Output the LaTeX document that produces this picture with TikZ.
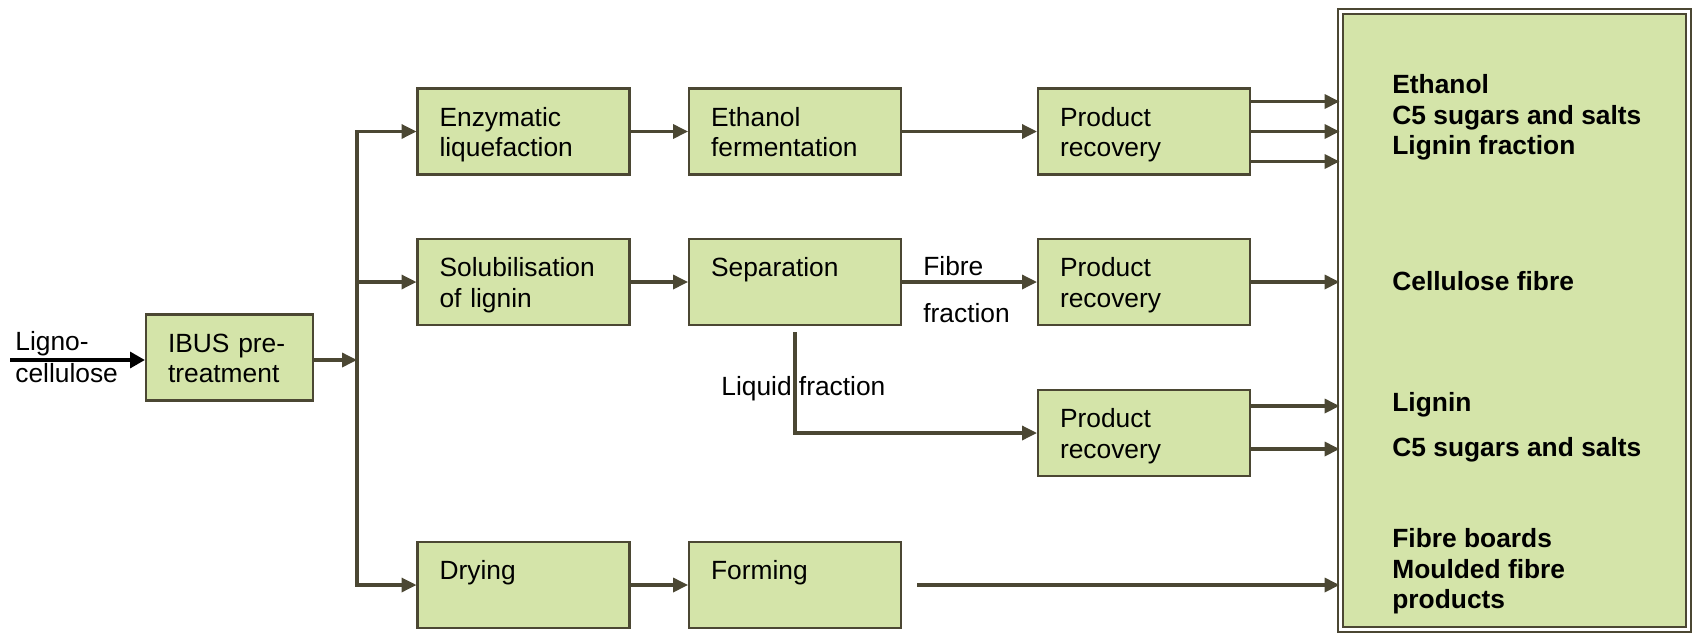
\documentclass[tikz,border=0pt]{standalone}
\usepackage{fontspec}
\setmainfont{Liberation Sans}
\usepackage{xcolor}
\usepackage{tikz}
\usetikzlibrary{arrows.meta,positioning}
\definecolor{boxfill}{HTML}{D4E4A9}
\definecolor{boxline}{HTML}{4B4733}

\begin{document}
\begin{tikzpicture}[
    x=0.02cm, y=-0.02cm,
    font=\fontsize{15}{17.6}\selectfont,
    process/.style={rectangle, draw=boxline, fill=boxfill, line width=1.2pt, minimum width=4.24cm, minimum height=1.72cm, inner xsep=0.44cm, text width=3.36cm, align=left,
        execute at begin node={\rule{0pt}{14.9pt}}, execute at end node={\rule[-3.5pt]{0pt}{3.5pt}}},
    flow/.style={draw=boxline, line width=1.8pt, -{Triangle[length=8.5pt,width=8pt]}},
    branch/.style={draw=boxline, line width=1.8pt, line cap=rect},
    product/.style={font=\fontsize{15}{17.6}\selectfont\bfseries, anchor=base west, inner sep=0pt},
    lbl/.style={anchor=base west, inner sep=0pt}
]
\useasboundingbox (0,0) rectangle (1694,633);

% Pre-treatment
\node[process, minimum width=3.34cm, text width=2.46cm] (ibus) at (229.5,357.5) {IBUS pre-\\treatment};

% Process steps
\node[process] (enz) at (523.5,131.5) {Enzymatic\\liquefaction};
\node[process, right=1.15cm of enz] (ferm) {Ethanol\\fermentation};
\node[process] (pr1) at (1144,131.5) {Product\\recovery};

\node[process] (sol) at (523.5,282) {Solubilisation\\of lignin};
\node[process, right=1.15cm of sol] (sep) {Separation\\~};
\node[process] (pr2) at (1144,282) {Product\\recovery};

\node[process] (pr3) at (1144,433) {Product\\recovery};

\node[process] (dry) at (523.5,585) {Drying\\~};
\node[process, right=1.15cm of dry] (form) {Forming\\~};

% Products
\node[rectangle, draw=boxline, fill=boxfill, line width=0.04cm, double=white, double distance=0.06cm, minimum width=6.97cm, minimum height=12.37cm] (outbox) at (1514.75,320.25) {};

\node[product] (p1) at (1392,93) {Ethanol};
\node[product] (p2) at (1392,124) {C5 sugars and salts};
\node[product] (p3) at (1392,154) {Lignin fraction};
\node[product] (p4) at (1392,290) {Cellulose fibre};
\node[product] (p5) at (1392,411) {Lignin};
\node[product] (p6) at (1392,456) {C5 sugars and salts};
\node[product] (p7) at (1392,547) {Fibre boards};
\node[product] (p8) at (1392,578) {Moulded fibre};
\node[product] (p9) at (1392,608) {products};

% Labels
\node[lbl] (feedA) at (15,350) {Ligno-};
\node[lbl] (feedB) at (15,382) {cellulose};
\node[lbl] (fibA) at (923,275) {Fibre};
\node[lbl] (fibB) at (923,322) {fraction};
\node[lbl] (liq) at (721,395) {Liquid fraction};

% Feed and split
\coordinate (feed) at (10,360);
\coordinate (split) at (357,360);
\draw[line width=2.2pt, -{Triangle[length=8.5pt,width=9pt]}] (feed) -- (feed -| ibus.west);
\draw[flow] (ibus.east |- split) -- (split);
\draw[branch] (split |- enz) -- (split |- dry);
\draw[flow] (split |- enz) -- (enz);
\draw[flow] (split |- sol) -- (sol);
\draw[flow] (split |- dry) -- (dry);

% Between steps
\draw[flow] (enz) -- (ferm);
\draw[flow] (ferm) -- (pr1);
\draw[flow] (sol) -- (sep);
\draw[flow] (sep) -- (pr2);
\draw[flow] ([yshift=-0.12cm]sep.south) |- (pr3);
\draw[flow] (dry) -- (form);

% Into products box
\coordinate (r1a) at ([yshift=0.6cm]pr1.east);
\coordinate (r1c) at ([yshift=-0.6cm]pr1.east);
\coordinate (r3a) at ([yshift=0.54cm]pr3.east);
\coordinate (r3b) at ([yshift=-0.32cm]pr3.east);
\coordinate (r4) at ([xshift=0.3cm]form.east);
\draw[flow] (r1a) -- (r1a -| outbox.west);
\draw[flow] (pr1) -- (pr1 -| outbox.west);
\draw[flow] (r1c) -- (r1c -| outbox.west);
\draw[flow] (pr2) -- (pr2 -| outbox.west);
\draw[flow] (r3a) -- (r3a -| outbox.west);
\draw[flow] (r3b) -- (r3b -| outbox.west);
\draw[flow] (r4) -- (r4 -| outbox.west);

\end{tikzpicture}
\end{document}
